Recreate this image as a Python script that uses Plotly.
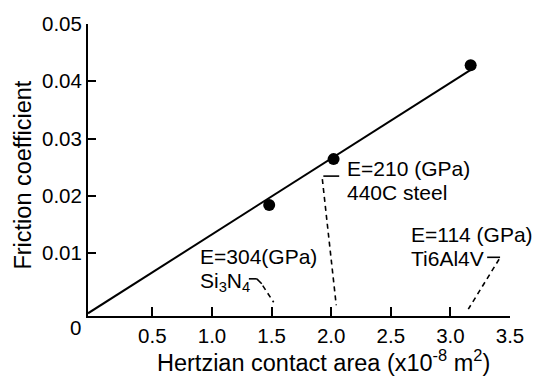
import numpy as np
import plotly.graph_objects as go

# ---- data ----
contact_area = [1.48, 2.02, 3.17]          # x10^-8 m^2
friction_coef = [0.0184, 0.0264, 0.0428]
x_tickvals = [0.5, 1.0, 1.5, 2.0, 2.5, 3.0, 3.5]
x_ticktext = ["0.5", "1.0", "1.5", "2.0", "2.5", "3.0", "3.5"]
y_tickvals = [0.01, 0.02, 0.03, 0.04, 0.05]
y_ticktext = ["0.01", "0.02", "0.03", "0.04", "0.05"]
material_labels = [
    ("E=304(GPa)", "Si<sub>3</sub>N<sub>4</sub>"),
    ("E=210 (GPa)", "440C steel"),
    ("E=114 (GPa)", "Ti6Al4V"),
]
x_title = "Hertzian contact area (x10<sup>-8</sup> m<sup>2</sup>)"
y_title = "Friction coefficient"

# ---- layout geometry ----
W, H = 536, 376
L, R, T, B = 88, 23, 17.5, 60
X_RANGE = [-0.04, 3.5]
Y_RANGE = [-0.001, 0.05]
FONT = "Liberation Sans, Arial, sans-serif"

pw, ph = W - L - R, H - T - B


def px2x(px):
    return X_RANGE[0] + (px - L) / pw * (X_RANGE[1] - X_RANGE[0])


def px2y(py):
    return Y_RANGE[0] + (H - B - py) / ph * (Y_RANGE[1] - Y_RANGE[0])


def ppx(px):   # pixel -> paper x
    return (px - L) / pw


def ppy(py):   # pixel -> paper y
    return (H - B - py) / ph


# least-squares line through origin
xa = np.array(contact_area)
ya = np.array(friction_coef)
slope = float((xa * ya).sum() / (xa * xa).sum())
line_x = np.array([X_RANGE[0], xa.max()])
line_y = slope * line_x

fig = go.Figure()
fig.add_trace(go.Scatter(x=line_x, y=line_y, mode="lines",
                         line=dict(color="black", width=2), showlegend=False,
                         hoverinfo="skip"))
fig.add_trace(go.Scatter(x=contact_area, y=friction_coef, mode="markers",
                         marker=dict(color="black", size=12), showlegend=False))

# text labels (pixel positions of left edge / vertical centre)
label_pos = [((199, 255), (199, 281)),
             ((347, 165), (347, 190)),
             ((411, 233), (411, 257))]
for (l1, l2), ((x1, y1), (x2, y2)) in zip(material_labels, label_pos):
    for txt, px, py in ((l1, x1, y1), (l2, x2, y2)):
        fig.add_annotation(xref="paper", yref="paper", x=ppx(px), y=ppy(py),
                           text=txt, showarrow=False,
                           xanchor="left", yanchor="middle",
                           font=dict(family=FONT, size=21, color="black"))

# origin label
fig.add_annotation(xref="paper", yref="paper", x=ppx(75), y=ppy(328), text="0",
                   showarrow=False, xanchor="center", yanchor="middle",
                   font=dict(family=FONT, size=20.5, color="black"))

# axis titles
fig.add_annotation(xref="paper", yref="paper", x=ppx(325), y=ppy(362),
                   text=x_title, showarrow=False, xanchor="center", yanchor="middle",
                   font=dict(family=FONT, size=23.5, color="black"))
fig.add_annotation(xref="paper", yref="paper", x=ppx(23), y=ppy(172),
                   text=y_title, showarrow=False, xanchor="center", yanchor="middle",
                   textangle=-90,
                   font=dict(family=FONT, size=23.5, color="black"))

# leader lines
solid = dict(color="black", width=1.6)
dashed = dict(color="black", width=1.6, dash="5px,4px")


def seg(p0, p1, style):
    fig.add_shape(type="line", xref="x", yref="y",
                  x0=px2x(p0[0]), y0=px2y(p0[1]), x1=px2x(p1[0]), y1=px2y(p1[1]),
                  line=style)


# Si3N4
seg((250, 278), (258, 278), solid)
seg((258, 278), (263, 283), solid)
seg((264, 285), (275, 302), dashed)
# 440C steel
seg((325, 173), (341, 173), solid)
seg((324, 176), (338, 305), dashed)
# Ti6Al4V
seg((490, 256), (503, 256), solid)
seg((502, 258), (471, 309), dashed)

fig.update_layout(
    width=W, height=H,
    margin=dict(l=L, r=R, t=T, b=B),
    plot_bgcolor="white", paper_bgcolor="white",
    font=dict(family=FONT, color="black"),
    xaxis=dict(range=X_RANGE, tickvals=x_tickvals, ticktext=x_ticktext,
               ticks="inside", ticklen=9, tickwidth=2, tickcolor="black",
               showline=True, linecolor="black", linewidth=2,
               showgrid=False, zeroline=False,
               tickfont=dict(family=FONT, size=20.5)),
    yaxis=dict(range=Y_RANGE, tickvals=y_tickvals, ticktext=y_ticktext,
               ticks="inside", ticklen=8, tickwidth=2, tickcolor="black",
               showline=True, linecolor="black", linewidth=2,
               showgrid=False, zeroline=False,
               tickfont=dict(family=FONT, size=20.5)),
)

fig.write_html("out.html")
